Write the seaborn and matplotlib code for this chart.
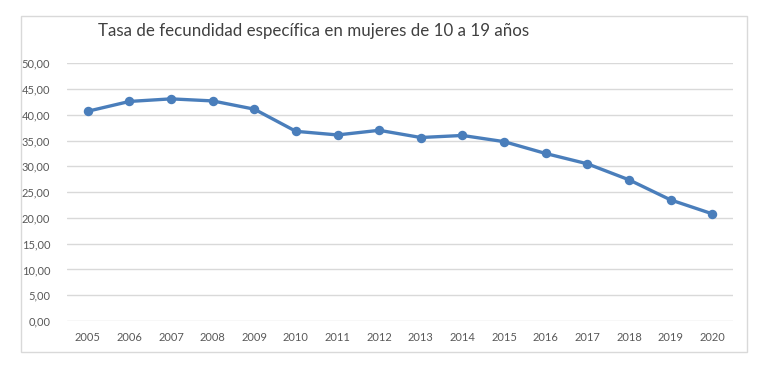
import matplotlib
matplotlib.use("Agg")
import matplotlib.pyplot as plt
import seaborn as sns
from matplotlib.patches import Rectangle
from matplotlib.ticker import FuncFormatter

years = [str(y) for y in range(2005, 2021)]
tasa = [40.7, 42.6, 43.1, 42.7, 41.1, 36.8, 36.1, 37.0,
        35.6, 36.0, 34.8, 32.5, 30.5, 27.4, 23.5, 20.8]
title = "Tasa de fecundidad específica en mujeres de 10 a 19 años"

sns.set_style("white")
plt.rcParams["font.family"] = ["Lato", "DejaVu Sans"]

fig = plt.figure(figsize=(7.62, 3.69), dpi=100)
ax = fig.add_axes([67 / 762, 1 - 321 / 369, (733 - 67) / 762, (321 - 63.3) / 369])

sns.pointplot(x=years, y=tasa, color="#4a7ebb", ax=ax,
              markersize=5, linewidth=2.4, errorbar=None)

ax.set_ylim(0, 50)
ax.set_xlim(-0.5, len(years) - 0.5)
ax.set_yticks(range(0, 51, 5))
ax.yaxis.set_major_formatter(FuncFormatter(lambda v, p: f"{v:.2f}".replace(".", ",")))
ax.grid(axis="y", color="#d9d9d9", linewidth=1)
ax.set_axisbelow(True)
for s in ax.spines.values():
    s.set_visible(False)
ax.tick_params(axis="both", length=0, labelsize=8, labelcolor="#595959")
ax.tick_params(axis="x", pad=8)
ax.tick_params(axis="y", pad=12)
ax.set_xlabel("")
ax.set_ylabel("")

fig.patches.append(Rectangle((21 / 762, 1 - 352 / 369), (747 - 21) / 762, (352 - 16) / 369,
                             transform=fig.transFigure, fill=False,
                             edgecolor="#d9d9d9", linewidth=1))
fig.text(98 / 762, 1 - 31 / 369, title, fontsize=12.2, color="#404040", va="center")

fig.savefig("out.png", dpi=100)
